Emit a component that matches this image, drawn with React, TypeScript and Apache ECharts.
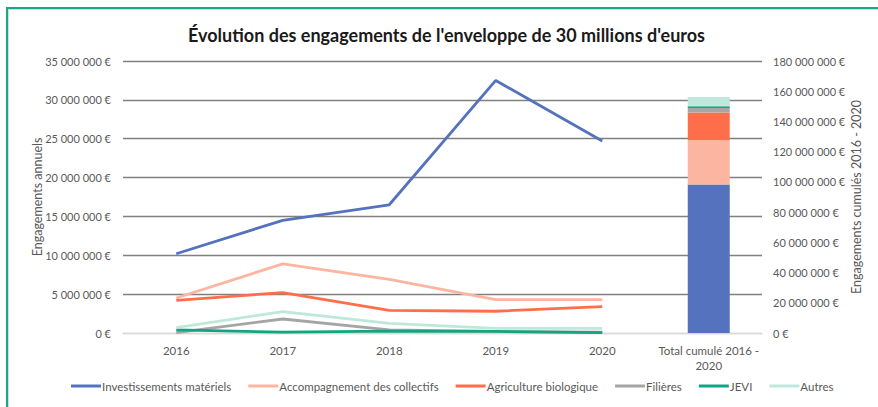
import React, { useEffect, useRef } from "react";
import * as echarts from "echarts";

const categories = ["2016", "2017", "2018", "2019", "2020", "Total cumulé 2016 -\n2020"];
const seriesNames = [
  "Investissements matériels",
  "Accompagnement des collectifs",
  "Agriculture biologique",
  "Filières",
  "JEVI",
  "Autres",
];
const seriesColors = ["#5572BE", "#FCB5A0", "#FF6E4A", "#A5A5A5", "#13A482", "#BFE8DD"];

// annual commitments (euros), 2016..2020
const investissements = [10200000, 14500000, 16500000, 32500000, 24700000];
const accompagnement = [4500000, 8900000, 6900000, 4300000, 4300000];
const agriculture = [4200000, 5200000, 2900000, 2800000, 3400000];
const filieres = [50000, 1800000, 400000, 200000, 100000];
const jevi = [400000, 100000, 250000, 200000, 50000];
const autres = [700000, 2750000, 1250000, 600000, 600000];

// cumulative totals 2016-2020 (euros), stacked bar
const totals = [98200000, 29300000, 18400000, 3000000, 1200000, 6000000];

const leftTicks = { min: 0, max: 35000000, interval: 5000000 };
const rightTicks = { min: 0, max: 180000000, interval: 20000000 };

const fmt = (v: number) =>
  Math.round(v).toString().replace(/\B(?=(\d{3})+(?!\d))/g, " ") + " €";

export default function App() {
  const ref = useRef<HTMLDivElement>(null);
  useEffect(() => {
    if (!ref.current) return;
    const chart = echarts.init(ref.current, null, { renderer: "svg" });
    const annual = [investissements, accompagnement, agriculture, filieres, jevi, autres];
    const font = "Lato, 'Open Sans', sans-serif";
    const lineSeries = annual.map((arr, i) => ({
      name: seriesNames[i],
      type: "line",
      yAxisIndex: 0,
      data: [...arr, null],
      symbol: "none",
      showSymbol: false,
      color: seriesColors[i],
      lineStyle: { color: seriesColors[i], width: 2.8 },
      z: 3,
    }));
    const barSeries = totals.map((t, i) => ({
      name: seriesNames[i],
      type: "bar",
      yAxisIndex: 1,
      stack: "total",
      barWidth: 42,
      data: [null, null, null, null, null, t],
      color: seriesColors[i],
      itemStyle: { color: seriesColors[i] },
      z: 2,
    }));
    const splitColors = ["#d9d9d9"];
    for (let i = 0; i < 7; i++) splitColors.push("#808080");
    chart.setOption({
      animation: false,
      textStyle: { fontFamily: font },
      title: {
        text: "Évolution des engagements de l'enveloppe de 30 millions d'euros",
        left: 183,
        top: 21,
        textStyle: { fontFamily: font, fontSize: 18, fontWeight: "bold", color: "#1a1a1a" },
      },
      legend: {
        data: seriesNames,
        bottom: 10,
        left: 66,
        icon: "rect",
        itemWidth: 30,
        itemHeight: 3,
        itemGap: 17,
        textStyle: { fontFamily: font, fontSize: 11.5, color: "#595959", padding: [0, 0, 0, -4] },
      },
      grid: { left: 123, right: 116, top: 61, bottom: 74 },
      xAxis: {
        type: "category",
        data: categories,
        axisTick: { show: false },
        axisLine: { lineStyle: { color: "#d9d9d9", width: 1.3 } },
        axisLabel: { interval: 0, color: "#595959", fontSize: 11.5, margin: 10, lineHeight: 15, fontFamily: font },
      },
      yAxis: [
        {
          type: "value",
          ...leftTicks,
          name: "Engagements annuels",
          nameLocation: "middle",
          nameGap: 79,
          nameMoveOverlap: false,
          nameRotate: 90,
          nameTextStyle: { color: "#595959", fontSize: 12.5, fontFamily: font },
          axisLabel: { color: "#595959", fontSize: 11, margin: 12, formatter: fmt, fontFamily: font },
          axisLine: { show: false },
          axisTick: { show: false },
          splitLine: { lineStyle: { color: splitColors, width: 1.3 } },
        },
        {
          type: "value",
          ...rightTicks,
          position: "right",
          name: "Engagements cumulés 2016 - 2020",
          nameLocation: "middle",
          nameGap: 88,
          nameMoveOverlap: false,
          nameRotate: 90,
          nameTextStyle: { color: "#595959", fontSize: 12.5, fontFamily: font },
          axisLabel: { color: "#595959", fontSize: 11, margin: 11, formatter: fmt, fontFamily: font },
          axisLine: { show: false },
          axisTick: { show: false },
          splitLine: { show: false },
        },
      ],
      series: [...lineSeries, ...barSeries],
    });
    return () => chart.dispose();
  }, []);
  return (
    <div style={{ position: "absolute", left: 0, top: 0, width: 878, height: 407, background: "#fff", overflow: "hidden" }}>
      <div
        style={{
          position: "absolute",
          left: 6,
          top: 7,
          width: 900,
          height: 450,
          borderLeft: "2.5px solid #17A88A",
          borderTop: "2.5px solid #17A88A",
          boxShadow: "inset 1px 1px 0 #d9d9d9",
        }}
      />
      <div ref={ref} style={{ position: "absolute", left: 0, top: 0, width: 878, height: 407 }} />
    </div>
  );
}
